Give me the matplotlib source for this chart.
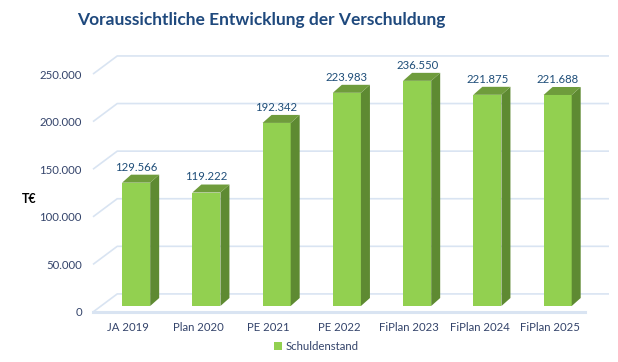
import matplotlib.pyplot as plt
from matplotlib.patches import Polygon

# data
categories = ['JA 2019', 'Plan 2020', 'PE 2021', 'PE 2022', 'FiPlan 2023', 'FiPlan 2024', 'FiPlan 2025']
values = [129566, 119222, 192342, 223983, 236550, 221875, 221688]
y_ticks = [0, 50000, 100000, 150000, 200000, 250000]
series_name = 'Schuldenstand'
title = 'Voraussichtliche Entwicklung der Verschuldung'
unit = 'T€'

plt.rcParams['font.family'] = ['Lato', 'DejaVu Sans']

front_col = '#92D050'
side_col = '#5E8A32'
top_col = '#6F9C3C'
grid_col = '#D9E4F2'
tick_col = '#34446B'
label_col = '#1F4E79'

# fake 3d: depth of the floor/walls and of the bars (category units, value units)
wall_dx, wall_dy = 0.345, 19000
bar_shift_x, bar_shift_y = 0.114, 6300
bar_w = 0.40
bar_dx, bar_dy = 0.128, 8400

fig = plt.figure(figsize=(6.18, 3.62), dpi=100)
ax = fig.add_axes([93 / 618, 50 / 362, 516 / 618, 257 / 362])
ax.set_xlim(-0.5, len(categories) - 0.5 + wall_dx)
ax.set_ylim(0, y_ticks[-1] + 20000)

# gridlines: diagonal on the side wall, then straight along the back wall
for v in y_ticks:
    ax.plot([-0.5, -0.5 + wall_dx, len(categories) - 0.5 + wall_dx],
            [v, v + wall_dy, v + wall_dy], color=grid_col, lw=1.2, zorder=1,
            solid_capstyle='butt', clip_on=False)
# front edge of the floor
ax.plot([-0.5, len(categories) - 0.5], [0, 0], color=grid_col, lw=2.2, zorder=1,
        clip_on=False)

for i, v in enumerate(values):
    xl = i + bar_shift_x - bar_w / 2
    xr = i + bar_shift_x + bar_w / 2
    y0 = bar_shift_y
    y1 = bar_shift_y + v
    front = Polygon([(xl, y0), (xr, y0), (xr, y1), (xl, y1)], closed=True,
                    facecolor=front_col, edgecolor='none', zorder=3,
                    label=series_name if i == 0 else None)
    side = Polygon([(xr, y0), (xr + bar_dx, y0 + bar_dy), (xr + bar_dx, y1 + bar_dy), (xr, y1)],
                   closed=True, facecolor=side_col, edgecolor='none', zorder=3)
    top = Polygon([(xl, y1), (xl + bar_dx, y1 + bar_dy), (xr + bar_dx, y1 + bar_dy), (xr, y1)],
                  closed=True, facecolor=top_col, edgecolor='none', zorder=3)
    for p in (front, side, top):
        ax.add_patch(p)
    ax.annotate(f'{v:,}'.replace(',', '.'), (i + bar_shift_x, y1 + bar_dy),
                xytext=(0, 1.5), textcoords='offset points', ha='center', va='bottom',
                fontsize=8.2, color=label_col, zorder=4)

ax.set_yticks(y_ticks)
ax.set_yticklabels([f'{v:,}'.replace(',', '.') for v in y_ticks])
ax.set_xticks(range(len(categories)))
ax.set_xticklabels(categories)
ax.tick_params(axis='y', length=0, pad=8, labelsize=8.2, labelcolor=tick_col)
ax.tick_params(axis='x', length=0, pad=7, labelsize=8.2, labelcolor=tick_col)
for s in ax.spines.values():
    s.set_visible(False)

fig.text(261 / 618, 1 - 20 / 362, title, ha='center', va='center', fontsize=12.5,
         fontweight='bold', color='#1F497D')
fig.text(22 / 618, 1 - 199 / 362, unit, ha='left', va='center', fontsize=9,
         fontweight='bold', color='black')

ax.legend(loc='center', bbox_to_anchor=(316 / 618, 1 - 346 / 362),
          bbox_transform=fig.transFigure, frameon=False, fontsize=8.2,
          handlelength=0.7, handleheight=0.7, handletextpad=0.3,
          labelcolor=tick_col, borderpad=0)

fig.savefig('out.png', dpi=100)
